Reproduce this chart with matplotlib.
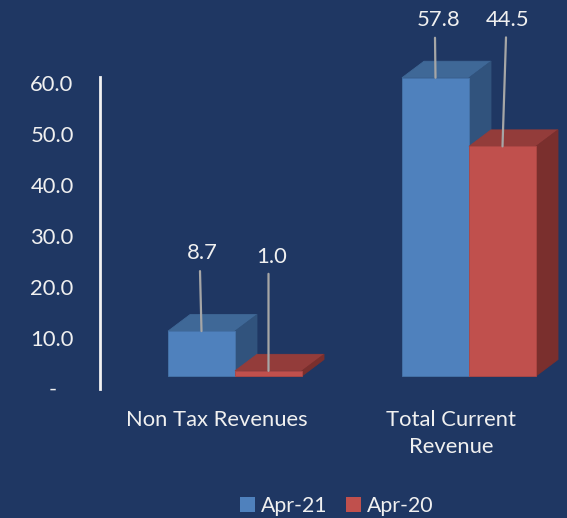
import matplotlib
matplotlib.use('Agg')
import matplotlib.pyplot as plt
from matplotlib.patches import Polygon, Patch, Rectangle

# ---- data ----
categories = ['Non Tax Revenues', 'Total Current\nRevenue']
series_names = ['Apr-21', 'Apr-20']
apr21 = [8.7, 57.8]
apr20 = [1.0, 44.5]
y_ticks = [0, 10, 20, 30, 40, 50, 60]
y_tick_labels = ['-   ', '10.0', '20.0', '30.0', '40.0', '50.0', '60.0']

# ---- style ----
plt.rcParams['font.family'] = ['Lato', 'DejaVu Sans']
BG = '#1F3763'
TXT = '#F0F0F0'
LEADER = '#A6A6A6'
front_colors = ['#4F81BD', '#C0504D']
top_colors = ['#3F6897', '#933C3A']
side_colors = ['#31537D', '#7A2F2D']
edge_colors = ['#4674AA', '#AE4744']
FS = 15.8

W, H = 567, 518
fig = plt.figure(figsize=(W / 100, H / 100), dpi=100, facecolor=BG)
left_px, right_px, top_px, bottom_px = 100, 560, 77, 388.5
rect = [left_px / W, 1 - bottom_px / H, (right_px - left_px) / W, (bottom_px - top_px) / H]

# value axis (scale shown on the left)
ax = fig.add_axes(rect)
ax.set_facecolor('none')
axis_px_per_unit = 5.09
ax.set_ylim(0, (bottom_px - top_px) / axis_px_per_unit)
ax.set_xlim(0, 1)
for s in ['top', 'right', 'bottom']:
    ax.spines[s].set_visible(False)
ax.spines['left'].set_color('#F2F2F2')
ax.spines['left'].set_linewidth(2)
ax.set_xticks([])
ax.set_yticks(y_ticks, y_tick_labels)
ax.tick_params(axis='y', length=0, pad=19, labelsize=FS, labelcolor=TXT)

# bar axes (3-D front plane)
bx = fig.add_axes(rect)
bx.set_facecolor('none')
bx.axis('off')
bar_px_per_unit = 5.16
floor_px = 12.5
bx.set_ylim(-floor_px / bar_px_per_unit, ((bottom_px - top_px) - floor_px) / bar_px_per_unit)
cat_px = 234.0
x_left = -135.0 / cat_px
bx.set_xlim(x_left, x_left + (right_px - left_px) / cat_px)

w = 67.0 / cat_px
ddx = 22.0 / cat_px
ddy = 16.5 / bar_px_per_unit

series = [apr21, apr20]
# label centre and leader-line top, in pixels relative to the bar's front-top centre
label_offsets_px = [[(0.5, 78), (3.5, 57.5)], [(3.5, 114), (5, 126.5)]]
leader_tops_px = [[(-1.5, 60), (-0.5, 40)], [(0, 97), (3.5, 109)]]

for i in range(len(categories)):
    for j, vals in enumerate(series):
        v = vals[i]
        x0 = i - w + j * w
        top = Polygon([(x0, v), (x0 + w, v), (x0 + w + ddx, v + ddy), (x0 + ddx, v + ddy)],
                      closed=True, facecolor=top_colors[j], edgecolor=top_colors[j],
                      lw=0.6, clip_on=False)
        side = Polygon([(x0 + w, 0), (x0 + w + ddx, ddy), (x0 + w + ddx, v + ddy), (x0 + w, v)],
                       closed=True, facecolor=side_colors[j], edgecolor=side_colors[j],
                       lw=0.6, clip_on=False)
        front = Rectangle((x0, 0), w, v, facecolor=front_colors[j], edgecolor=edge_colors[j],
                          lw=0.6, clip_on=False)
        bx.add_patch(top)
        bx.add_patch(side)
        bx.add_patch(front)

# value labels with leader lines
for i in range(len(categories)):
    for j, vals in enumerate(series):
        v = vals[i]
        xc = i - w / 2 + j * w
        ox, oy = label_offsets_px[j][i]
        lx, ly = leader_tops_px[j][i]
        bx.annotate('', xy=(xc, v), xycoords='data',
                    xytext=(lx, ly), textcoords='offset pixels',
                    annotation_clip=False,
                    arrowprops=dict(arrowstyle='-', color=LEADER, lw=1.6,
                                    shrinkA=0, shrinkB=0))
        bx.annotate(f'{v:.1f}', xy=(xc, v), xycoords='data',
                    xytext=(ox, oy), textcoords='offset pixels',
                    ha='center', va='center', fontsize=FS, color=TXT,
                    annotation_clip=False)

# category labels
for i, c in enumerate(categories):
    bx.annotate(c, xy=(i, 0), xycoords=('data', 'axes fraction'),
                xytext=(-18, -22), textcoords='offset pixels',
                ha='center', va='top', fontsize=FS, color=TXT,
                linespacing=1.4, annotation_clip=False)

handles = [Patch(facecolor=front_colors[k], edgecolor='none') for k in range(2)]
fig.legend(handles, series_names, loc='center', bbox_to_anchor=(337 / W, 1 - 506 / H),
           ncol=2, frameon=False, fontsize=15.3, labelcolor=TXT,
           handlelength=0.7, handleheight=0.7, handletextpad=0.3, columnspacing=0.85)

fig.savefig('out.png', dpi=100, facecolor=BG)
